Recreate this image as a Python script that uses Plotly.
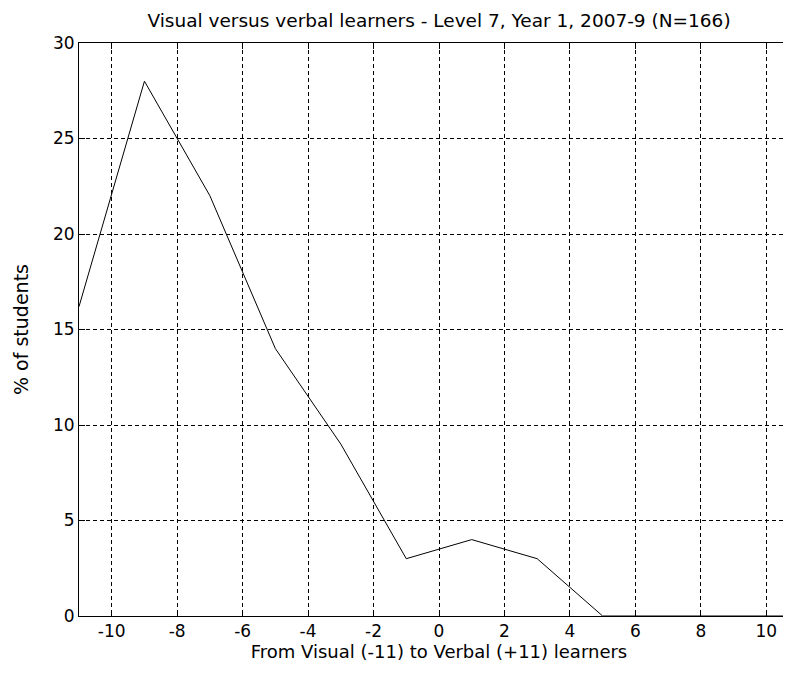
import plotly.graph_objects as go

# Data
scores = [-11, -9, -7, -5, -3, -1, 1, 3, 5, 7, 9, 11]
pct_students = [16.2, 28.0, 22.0, 14.0, 9.0, 3.0, 4.0, 3.0, 0.0, 0.0, 0.0, 0.0]

x_ticks = [-10, -8, -6, -4, -2, 0, 2, 4, 6, 8, 10]
x_tick_labels = ["-10", "-8", "-6", "-4", "-2", "0", "2", "4", "6", "8", "10"]
y_ticks = [0, 5, 10, 15, 20, 25, 30]
y_tick_labels = ["0", "5", "10", "15", "20", "25", "30"]

title_text = "Visual versus verbal learners - Level 7, Year 1, 2007-9 (N=166)"
x_label = "From Visual (-11) to Verbal (+11) learners"
y_label = "% of students"

FONT = "DejaVu Sans"
H = 671

fig = go.Figure()
fig.add_trace(go.Scatter(
    x=scores, y=pct_students, mode="lines",
    line=dict(color="black", width=1), showlegend=False,
))

axis_common = dict(
    showline=True, linecolor="black", linewidth=1,
    ticks="inside", ticklen=6, tickcolor="black", tickwidth=1,
    showgrid=True, gridcolor="black", gridwidth=1, griddash="4px,3px",
    zeroline=False, automargin=False,
    tickfont=dict(family=FONT, size=17, color="black"),
)

fig.update_layout(
    width=791, height=H,
    margin=dict(l=71, r=0, t=35, b=63),
    paper_bgcolor="white", plot_bgcolor="white",
    font=dict(family=FONT, size=17, color="black"),
    title=dict(text=title_text, x=0.5, xref="paper", xanchor="center",
               y=1 - 12.5 / H, yref="container", yanchor="middle",
               font=dict(family=FONT, size=18.5, color="black")),
    xaxis=dict(range=[-11, 11], tickvals=x_ticks, ticktext=x_tick_labels,
               mirror="ticks",
               title=dict(text=x_label, standoff=4,
                          font=dict(family=FONT, size=18, color="black")),
               **axis_common),
    yaxis=dict(range=[0, 30], tickvals=y_ticks, ticktext=y_tick_labels,
               mirror="ticks",
               title=dict(text=y_label, standoff=19,
                          font=dict(family=FONT, size=19, color="black")),
               **axis_common),
)

fig.write_html("out.html")
